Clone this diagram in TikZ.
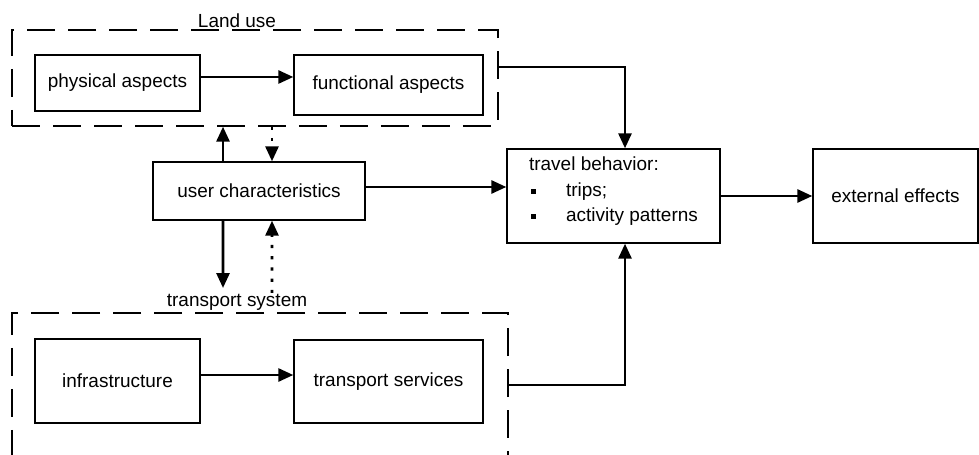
\documentclass[tikz,border=0pt]{standalone}
\usepackage{fontspec}
\setmainfont{Liberation Sans}
\usetikzlibrary{arrows.meta}

\newcommand{\sqbullet}{\rule[0.05cm]{0.1cm}{0.1cm}}

\begin{document}
\begin{tikzpicture}[
  x=0.02cm, y=-0.02cm,
  font=\fontsize{10.8}{13}\selectfont,
  block/.style={draw, line width=0.8pt, inner sep=2pt, align=center},
  group/.style={draw, line width=0.8pt, dash pattern=on 0.56cm off 0.26cm},
  flow/.style={-{Triangle[length=0.3cm, width=0.26cm]}, line width=1.6pt},
  hint/.style={flow, dash pattern=on 1.8pt off 4.6pt}
]
  \useasboundingbox (0,0) rectangle (979,455);

  % ---- dashed groups ----
  \node[group, minimum width=9.72cm, minimum height=1.92cm] (landuse) at (255,78) {};
  \node (landlbl) at (237,21) {Land use};
  \node[group, minimum width=9.92cm, minimum height=3.24cm] (transport) at (260,394) {};
  \node (translbl) at (237,302) {transport system};

  % ---- boxes ----
  \node[block, minimum width=3.3cm, minimum height=1.12cm] (phys) at (117.5,83) {physical aspects};
  \node[block, minimum width=3.78cm, minimum height=1.2cm] (func) at (388.5,85) {functional aspects};
  \node[block, minimum width=4.24cm, minimum height=1.16cm] (user) at (259,191) {user characteristics};
  \node[block, minimum width=3.3cm, minimum height=1.68cm] (infra) at (117.5,381) {infrastructure};
  \node[block, minimum width=3.78cm, minimum height=1.66cm] (serv) at (388.5,381.5) {transport services};
  \node[block, minimum width=4.26cm, minimum height=1.88cm] (travel) at (613.5,196)
        {\renewcommand{\arraystretch}{1.1}%
         \begin{tabular}{@{}l@{\hspace{0.6cm}}l@{}}
           \multicolumn{2}{@{}l@{}}{travel behavior:}\\
           \hspace{0.04cm}\sqbullet & trips;\\
           \hspace{0.04cm}\sqbullet & activity patterns\\[0.2cm]
         \end{tabular}};
  \node[block, minimum width=3.3cm, minimum height=1.88cm] (ext) at (895.5,196) {external effects};

  % ---- flow arrows ----
  \draw[flow] ([yshift=0.12cm]phys.east) -- ([yshift=0.12cm]phys.east -| func.west);
  \draw[flow] ([yshift=0.12cm]infra.east) -- ([yshift=0.12cm]infra.east -| serv.west);
  \draw[flow] ([yshift=0.22cm]landuse.east) -| ([xshift=0.23cm]travel.north);
  \draw[flow] ([yshift=-0.07cm]transport.east |- serv) -| ([xshift=0.23cm]travel.south);
  \draw[flow] ([yshift=0.08cm]user.east) -- ([yshift=0.08cm]user.east -| travel.west);
  \draw[flow] (travel) -- (ext);

  % ---- user characteristics up and down ----
  \coordinate (downend) at (223,288);
  \coordinate (dotstart) at (272,293);
  \draw[flow] ([xshift=-0.72cm]user.north) -- ([xshift=-0.72cm]user.north |- landuse.south);
  \draw[hint] ([xshift=0.26cm]user.north |- landuse.south) -- ([xshift=0.26cm]user.north);
  \draw[flow] ([xshift=-0.72cm]user.south) -- (downend);
  \draw[hint] (dotstart) -- ([xshift=0.26cm]user.south);
\end{tikzpicture}
\end{document}
